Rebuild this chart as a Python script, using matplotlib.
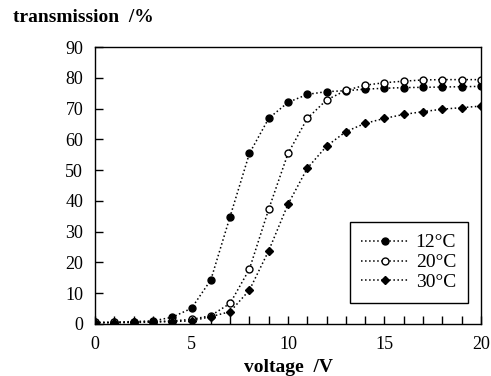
import matplotlib
matplotlib.use("Agg")
import matplotlib.pyplot as plt
from matplotlib.ticker import MultipleLocator

plt.rcParams['font.family'] = ['Liberation Serif', 'DejaVu Serif']

voltage = list(range(0, 21))
t12 = [0.5, 0.6, 0.8, 1.0, 2.2, 5.1, 14.3, 34.9, 55.4, 66.8, 72.0, 74.6, 75.5, 75.8, 76.3,
       76.6, 76.8, 76.9, 77.0, 77.1, 77.2]
t20 = [0.5, 0.5, 0.6, 0.8, 1.0, 1.5, 2.7, 6.7, 17.8, 37.3, 55.4, 66.8, 72.8, 75.9, 77.6,
       78.4, 78.9, 79.3, 79.4, 79.4, 79.4]
t30 = [0.4, 0.4, 0.5, 0.6, 0.8, 1.0, 2.4, 4.0, 11.0, 23.8, 38.9, 50.6, 57.8, 62.5, 65.2,
       66.8, 68.1, 69.0, 69.8, 70.3, 70.8]
labels = ["12°C", "20°C", "30°C"]

fig = plt.figure(figsize=(4.91, 3.76), dpi=100)
ax = fig.add_axes([0.1935, 0.1383, 0.7861, 0.7367])

ax.plot(voltage, t12, linestyle=':', color='black', lw=1.1, marker='o', ms=5,
        mfc='black', mec='black', label=labels[0])
ax.plot(voltage, t20, linestyle=':', color='black', lw=1.1, marker='o', ms=5,
        mfc='white', mec='black', mew=1.0, label=labels[1])
ax.plot(voltage, t30, linestyle=':', color='black', lw=1.1, marker='D', ms=4.2,
        mfc='black', mec='black', label=labels[2])

ax.set_xlim(0, 20)
ax.set_ylim(0, 90)
ax.xaxis.set_major_locator(MultipleLocator(5))
ax.xaxis.set_minor_locator(MultipleLocator(1))
ax.yaxis.set_major_locator(MultipleLocator(10))
ax.tick_params(axis='both', which='both', direction='in', labelsize=13,
               top=False, right=False)
ax.tick_params(axis='both', which='major', length=6, width=1)
ax.tick_params(axis='x', which='minor', length=6, width=1)
ax.tick_params(axis='x', pad=9)
ax.tick_params(axis='y', pad=8.5)
for s in ax.spines.values():
    s.set_linewidth(1)

leg = ax.legend(loc='lower right', bbox_to_anchor=(0.966, 0.076), fontsize=14,
                frameon=True, fancybox=False, edgecolor='black', framealpha=1,
                handlelength=2.4, handletextpad=0.4, borderpad=0.6, labelspacing=0.12,
                borderaxespad=0)
leg.get_frame().set_linewidth(1.0)

fig.text(13/491, 1 - 18/376, "transmission  /%", fontsize=14, fontweight='bold',
         ha='left', va='center')
fig.text(288/491, 1 - 367/376, "voltage  /V", fontsize=14, fontweight='bold',
         ha='center', va='center')

fig.savefig("out.png", dpi=100)
